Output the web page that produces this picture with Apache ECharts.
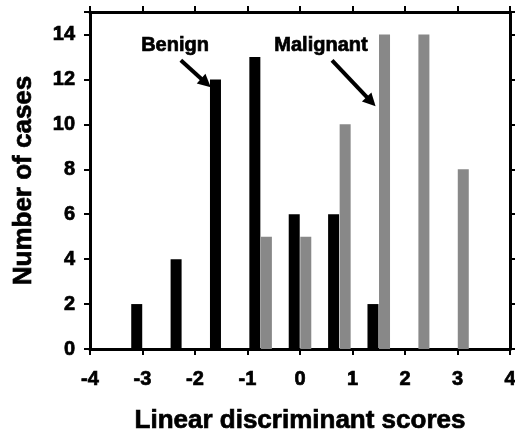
<!DOCTYPE html>
<html><head><meta charset="utf-8">
<script src="https://cdn.jsdelivr.net/npm/echarts@6/dist/echarts.min.js"></script>
<style>html,body{margin:0;padding:0;background:#fff}#c{width:515px;height:431px}</style>
</head><body><div id="c"></div>
<script>
const benignScores = [-3.11, -2.36, -1.61, -0.86, -0.11, 0.64, 1.39];
const benignCounts = [2, 4, 12, 13, 6, 6, 2];
const malignantScores = [-0.64, 0.11, 0.86, 1.61, 2.36, 3.11];
const malignantCounts = [5, 5, 10, 14, 14, 8];
const xTicks = [-4, -3, -2, -1, 0, 1, 2, 3, 4];
const yTicks = [0, 2, 4, 6, 8, 10, 12, 14];

const FONT = 'Liberation Sans, Arial, sans-serif';
const chart = echarts.init(document.getElementById('c'), null, {renderer: 'canvas'});
const axisLine = {show: true, onZero: false, lineStyle: {color: '#000', width: 3}};
const axisTick = {show: true, length: 6, lineStyle: {color: '#000', width: 2}};
const lbl = {color: '#000', fontFamily: FONT, fontWeight: 'bold', fontSize: 20, textBorderColor: '#000', textBorderWidth: 0.7};
const ttl = {color: '#000', fontFamily: FONT, fontWeight: 'bold', fontSize: 26, textBorderColor: '#000', textBorderWidth: 0.7};

chart.setOption({
  animation: false,
  backgroundColor: '#fff',
  grid: {left: 90, right: 5, top: 12, bottom: 82, outerBoundsMode: 'none', containLabel: false},
  xAxis: [{
    type: 'value', min: xTicks[0], max: xTicks[xTicks.length-1], interval: 1,
    axisLine, axisTick, splitLine: {show: false},
    axisLabel: Object.assign({margin: 20}, lbl),
    name: 'Linear discriminant scores', nameLocation: 'middle', nameGap: 59,
    nameTextStyle: ttl
  }, {
    type: 'value', position: 'top', min: xTicks[0], max: xTicks[xTicks.length-1], interval: 1,
    axisLine, axisTick, splitLine: {show: false}, axisLabel: {show: false}
  }],
  yAxis: [{
    type: 'value', min: 0, max: 15, interval: 2,
    axisLine, axisTick, splitLine: {show: false},
    axisLabel: Object.assign({margin: 15, formatter: v => yTicks.includes(v) ? String(v) : ''}, lbl),
    name: 'Number of cases', nameLocation: 'middle', nameGap: 53,
    nameTextStyle: ttl
  }, {
    type: 'value', position: 'right', min: 0, max: 15, interval: 2,
    axisLine, axisTick, splitLine: {show: false}, axisLabel: {show: false}
  }],
  series: [{
    name: 'Benign', type: 'bar', barWidth: 11, barGap: '-100%',
    itemStyle: {color: '#000'},
    data: benignScores.map((s, i) => [s, benignCounts[i]])
  }, {
    name: 'Malignant', type: 'bar', barWidth: 11, barGap: '-100%',
    itemStyle: {color: '#888888'},
    data: malignantScores.map((s, i) => [s, malignantCounts[i]])
  }]
});

function P(x, y) { return chart.convertToPixel({xAxisIndex: 0, yAxisIndex: 0}, [x, y]); }
function arrow(from, to) {
  const a = P(from[0], from[1]), b = P(to[0], to[1]);
  const dx = b[0]-a[0], dy = b[1]-a[1], L = Math.hypot(dx, dy);
  const ux = dx/L, uy = dy/L, hl = 13, hw = 6.5;
  const base = [b[0]-ux*hl, b[1]-uy*hl];
  return [{
    type: 'line', shape: {x1: a[0], y1: a[1], x2: base[0]+ux*2, y2: base[1]+uy*2},
    style: {stroke: '#000', lineWidth: 4}
  }, {
    type: 'polygon',
    shape: {points: [b, [base[0]-uy*hw, base[1]+ux*hw], [base[0]+uy*hw, base[1]-ux*hw]]},
    style: {fill: '#000'}
  }];
}
function text(t, x, y) {
  const p = P(x, y);
  return {type: 'text', x: p[0], y: p[1], style: {text: t, fill: '#000', font: 'bold 20px ' + FONT, stroke: '#000', lineWidth: 0.7, textAlign: 'center', textVerticalAlign: 'middle'}};
}
chart.setOption({graphic: [
  text('Benign', -2.38, 13.5),
  text('Malignant', 0.40, 13.5),
  ...arrow([-2.27, 12.85], [-1.70, 11.65]),
  ...arrow([0.61, 12.85], [1.44, 10.8])
]});
</script></body></html>
